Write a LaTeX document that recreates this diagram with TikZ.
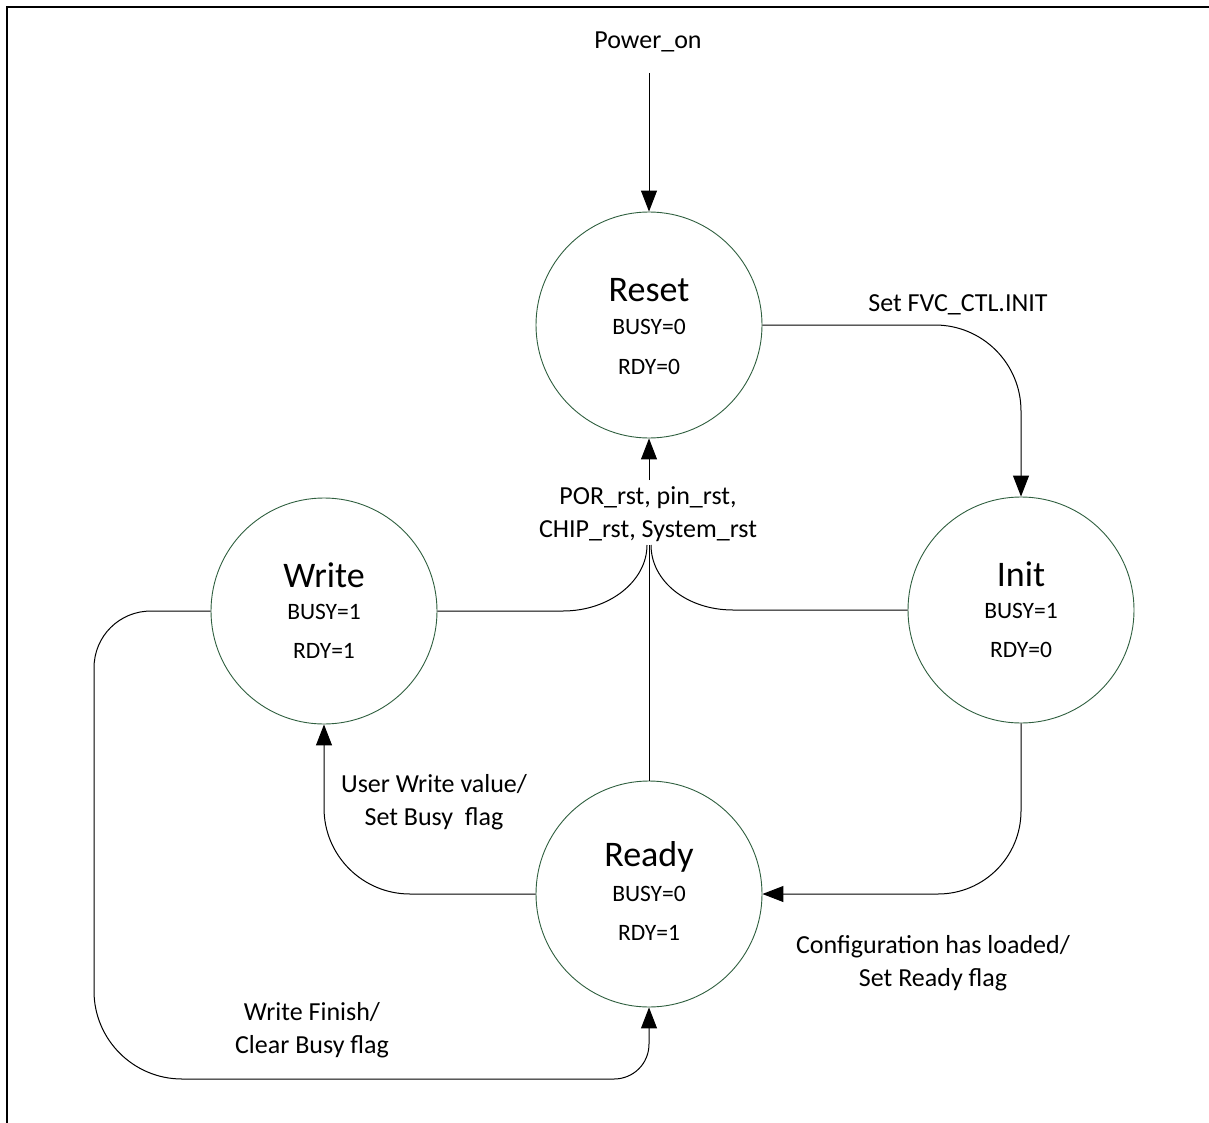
\documentclass[tikz,border=0pt]{standalone}
\usepackage{fontspec}
\setmainfont{Carlito}
\usetikzlibrary{arrows.meta}
\definecolor{stateline}{HTML}{2F5F3F}
\begin{document}
\begin{tikzpicture}[x=1pt,y=-1pt,
  state/.style={circle,draw=stateline,line width=0.9pt,minimum size=226pt,inner sep=0pt},
  stname/.style={inner sep=0pt,font=\fontsize{36}{40}\selectfont},
  stflag/.style={inner sep=0pt,font=\fontsize{23.5}{28}\selectfont},
  lbl/.style={inner sep=0pt,align=center,font=\fontsize{26}{33}\selectfont},
  conn/.style={line width=1pt,draw=black},
  arr/.style={conn,-{Triangle[length=21pt,width=16pt]}}]
\useasboundingbox (0,0) rectangle (1209,1123);
% frame
\draw[line width=2.5pt] (7,1130) -- (7,7) -- (1216,7);

% states
\node[state] (reset) at (649,325) {};
\node[stname] (resetN) at ([yshift=35pt]reset.center) {Reset};
\node[stflag] (resetB) at ([yshift=-2pt]reset.center) {BUSY=0};
\node[stflag] (resetR) at ([yshift=-42pt]reset.center) {RDY=0};

\node[state] (write) at (324,611) {};
\node[stname] (writeN) at ([yshift=36pt]write.center) {Write};
\node[stflag] (writeB) at ([yshift=-1pt]write.center) {BUSY=1};
\node[stflag] (writeR) at ([yshift=-40pt]write.center) {RDY=1};

\node[state] (init) at (1021,610) {};
\node[stname] (initN) at ([yshift=36pt]init.center) {Init};
\node[stflag] (initB) at ([yshift=-1pt]init.center) {BUSY=1};
\node[stflag] (initR) at ([yshift=-40pt]init.center) {RDY=0};

\node[state] (ready) at (649,894) {};
\node[stname] (readyN) at ([yshift=37pt]ready.center) {Ready};
\node[stflag] (readyB) at ([yshift=0pt]ready.center) {BUSY=0};
\node[stflag] (readyR) at ([yshift=-39pt]ready.center) {RDY=1};

% labels
\node[lbl] (pwrlbl) at (648,42) {Power\_on};
\node[lbl] (initlbl) at (958,305) {Set FVC\_CTL.INIT};
\node[lbl] (rstlbl) at (648,514) {POR\_rst, pin\_rst,\\CHIP\_rst, System\_rst};
\node[lbl] (cfglbl) at (933,963) {Configuration has loaded/\\Set Ready flag};
\node[lbl] (uwlbl) at (434,802) {User Write value/\\Set Busy~~flag};
\node[lbl] (wflbl) at (312,1030) {Write Finish/\\Clear Busy flag};

% free ends
\coordinate (pwr) at (649,73);
\coordinate (mergeL) at (647,545);
\coordinate (mergeR) at (651,545);
\coordinate (mergeC) at (649,545);
\coordinate (rstTail) at (649,480);

% transitions
\draw[arr] (pwr) -- (reset.north);
\draw[arr,rounded corners=86pt] (reset.east) -| (init.north);
\draw[arr,rounded corners=83pt] (init.south) |- (ready.east);
\draw[arr,rounded corners=86pt] (ready.west) -| (write.south);
\draw[arr] (write.west) -- (151,611) .. controls (119.5,611) and (94,636) .. (94,668)
  -- (94,991) .. controls (94,1039.6) and (133.4,1079) .. (182,1079)
  -- (614,1079) .. controls (633.3,1079) and (649,1063.7) .. (649,1044) -- (ready.south);

% reset from every state
\draw[conn] (write.east) -- (563,611) .. controls (609.4,611) and (647,581) .. (mergeL);
\draw[conn] (init.west) -- (733,610) .. controls (686.6,610) and (651,581) .. (mergeR);
\draw[conn] (ready.north) -- (mergeC);
\draw[arr] (rstTail) -- (reset.south);
\end{tikzpicture}
\end{document}
